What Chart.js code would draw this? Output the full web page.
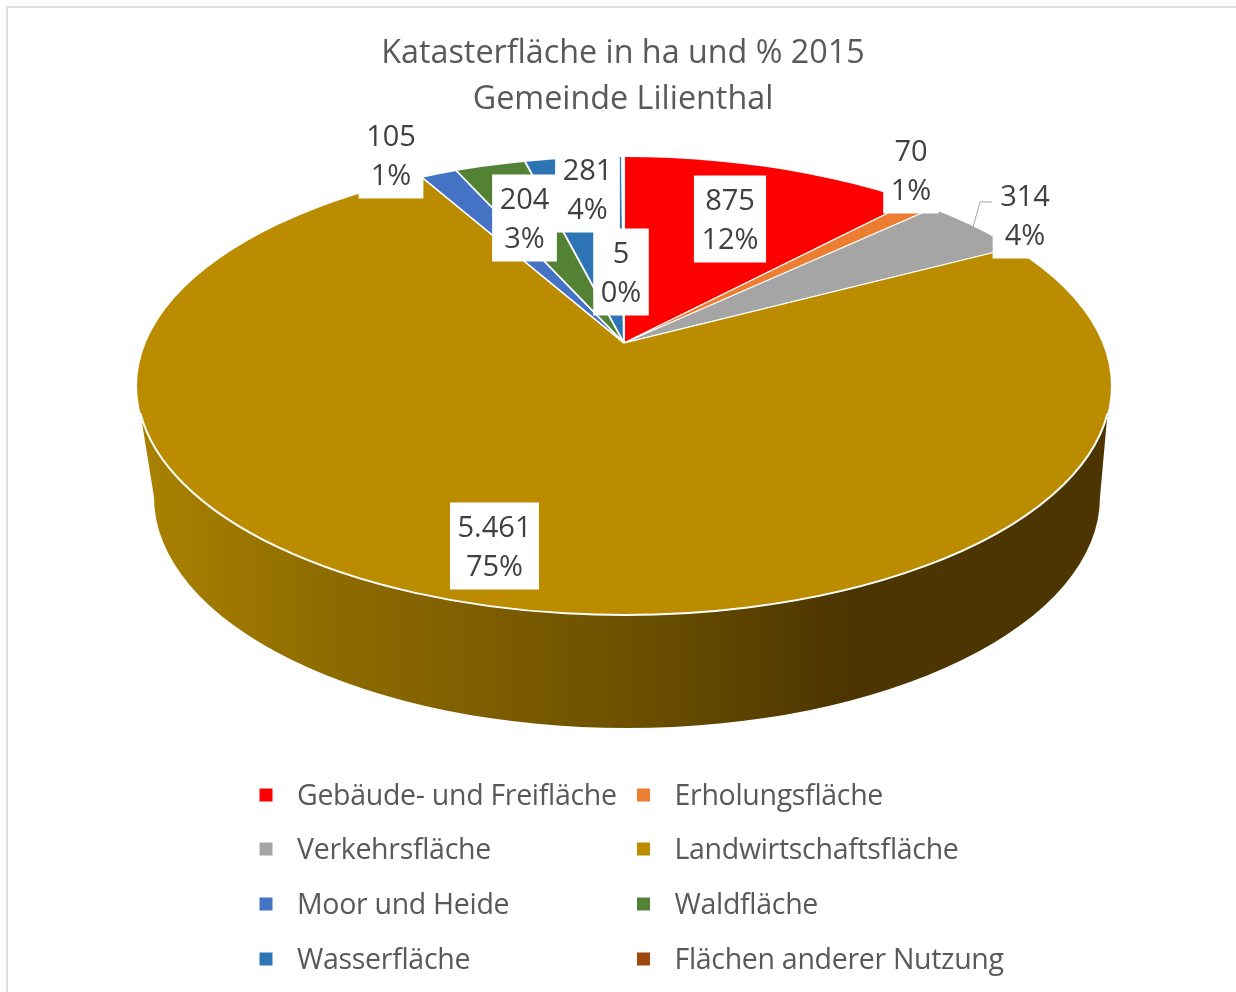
<!DOCTYPE html>
<html lang="de">
<head>
<meta charset="utf-8">
<title>Katasterfläche Lilienthal 2015</title>
<script src="https://cdn.jsdelivr.net/npm/chart.js@4"></script>
<style>
    html, body { margin: 0; padding: 0; background: #fff; overflow: hidden; }
    canvas { display: block; }
</style>
</head>
<body>
<canvas id="pieChart" width="1236" height="992"></canvas>
<script>
// Daten
const categories = ['Gebäude- und Freifläche', 'Erholungsfläche', 'Verkehrsfläche', 'Landwirtschaftsfläche',
    'Moor und Heide', 'Waldfläche', 'Wasserfläche', 'Flächen anderer Nutzung'];
const areaHa = [875, 70, 314, 5461, 105, 204, 281, 5];
const sliceColors = ['#FF0000', '#ED7D31', '#A5A5A5', '#BC8C00', '#4472C4', '#548235', '#2E75B6', '#9E480E'];

// Mittelpunkt der Beschriftungen (im Original von Hand platziert)
const labelCenters = [[730, 219], [911, 170], [1025, 215], [494.5, 546], [391, 155], [524.5, 218], [587.5, 189], [621, 272]];

const FONT = '"Open Sans", "Noto Sans", sans-serif';
const total = areaHa.reduce((a, b) => a + b, 0);

// Geometrie der 3D-Torte
const TOP = { x: 624, y: 386, rx: 487, ry: 229 };
const BOTTOM = { x: 627, y: 497, rx: 473, ry: 231 };
const APEX = { x: 624, y: 343 };
const TILT = 0.46;

const formatHa = (v) => v.toLocaleString('de-DE');

// --- Seitenwand, Rahmen ---
const wallPlugin = {
    id: 'wall',
    beforeDatasetsDraw(chart) {
        const ctx = chart.ctx;

        ctx.save();
        ctx.fillStyle = '#DFDFDF';
        ctx.fillRect(6, 6, 1230, 2);
        ctx.fillRect(6, 6, 2, 986);

        const grad = ctx.createLinearGradient(139, 0, 1108, 0);
        grad.addColorStop(0, '#AA8200');
        grad.addColorStop(0.19, '#8F6C00');
        grad.addColorStop(0.52, '#6B4F00');
        grad.addColorStop(0.73, '#4C3500');
        grad.addColorStop(1, '#4C3500');

        ctx.beginPath();
        ctx.ellipse(TOP.x, TOP.y, TOP.rx, TOP.ry, 0, 0.12, Math.PI - 0.12);
        ctx.ellipse(BOTTOM.x, BOTTOM.y, BOTTOM.rx, BOTTOM.ry, 0, Math.PI, 0, true);
        ctx.closePath();
        ctx.fillStyle = grad;
        ctx.fill();
        ctx.restore();
    },
    // Tortenstücke perspektivisch: Spitze liegt über der Ellipsenmitte
    beforeDatasetDraw(chart, args) {
        const ctx = chart.ctx;
        const arc = args.meta.data[0];
        ctx.save();
        ctx.beginPath();
        ctx.ellipse(TOP.x, TOP.y, TOP.rx, TOP.ry, 0, 0, Math.PI * 2);
        ctx.clip();
        ctx.translate(APEX.x, APEX.y);
        ctx.scale(1, TILT);
        ctx.translate(-arc.x, -arc.y);
    },
    afterDatasetDraw(chart) {
        chart.ctx.restore();
    }
};

// --- Beschriftungen und Legende ---
const labelPlugin = {
    id: 'labels',
    afterDatasetsDraw(chart) {
        const ctx = chart.ctx;
        ctx.save();

        // weisser Rand unten an der Deckfläche
        ctx.strokeStyle = '#FFFFFF';
        ctx.lineWidth = 2;
        ctx.beginPath();
        ctx.ellipse(TOP.x, TOP.y, TOP.rx, TOP.ry, 0, 0.12, Math.PI - 0.12);
        ctx.stroke();

        // Führungslinie zu 314
        ctx.strokeStyle = '#A6A6A6';
        ctx.lineWidth = 1;
        ctx.beginPath();
        ctx.moveTo(973, 227);
        ctx.lineTo(980, 202);
        ctx.lineTo(992, 202);
        ctx.stroke();

        ctx.font = '29px ' + FONT;
        ctx.textAlign = 'center';
        ctx.textBaseline = 'middle';
        areaHa.forEach((value, i) => {
            const [cx, cy] = labelCenters[i];
            const line1 = formatHa(value);
            const line2 = Math.round(value / total * 100) + '%';
            const w = Math.max(ctx.measureText(line1).width, ctx.measureText(line2).width) + 15;
            ctx.fillStyle = '#FFFFFF';
            ctx.fillRect(cx - w / 2, cy - 43.5, w, 87);
            ctx.fillStyle = '#404040';
            ctx.fillText(line1, cx, cy - 17);
            ctx.fillText(line2, cx, cy + 22);
        });

        // Legende, zweispaltig wie im Original
        const rows = [797, 851, 906, 961];
        ctx.font = '28.5px ' + FONT;
        ctx.letterSpacing = '-0.3px';
        ctx.textAlign = 'left';
        categories.forEach((name, i) => {
            const right = i % 2 === 1;
            const y = rows[Math.floor(i / 2)];
            ctx.fillStyle = sliceColors[i];
            ctx.fillRect(right ? 637 : 259.5, y - 8.5, 13, 13);
            ctx.fillStyle = '#595959';
            ctx.fillText(name, right ? 674.5 : 297, y);
        });
        ctx.restore();
    }
};

const pieChart = new Chart(document.getElementById('pieChart').getContext('2d'), {
    type: 'pie',
    data: {
        labels: categories,
        datasets: [{
            data: areaHa,
            backgroundColor: sliceColors,
            borderColor: '#FFFFFF',
            borderWidth: 2,
            clip: false
        }]
    },
    options: {
        responsive: false,
        animation: false,
        radius: 620,
        layout: { padding: { left: 10, top: 31 } },
        plugins: {
            legend: { display: false },
            tooltip: { enabled: false },
            title: {
                display: true,
                text: ['Katasterfläche in ha und % 2015', 'Gemeinde Lilienthal'],
                color: '#595959',
                font: { family: FONT, size: 32.3, weight: 'normal', lineHeight: 1.424 },
                padding: { top: 0, bottom: 10 }
            }
        }
    },
    plugins: [wallPlugin, labelPlugin]
});
</script>
</body>
</html>
